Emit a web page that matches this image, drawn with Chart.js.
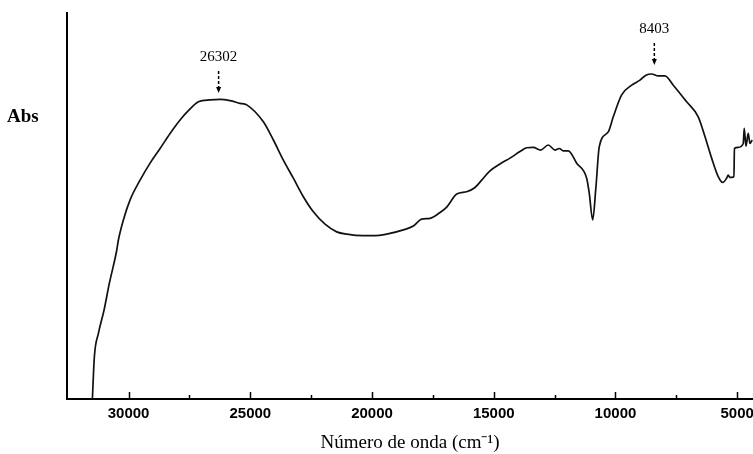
<!DOCTYPE html>
<html lang="es">
<head>
<meta charset="UTF-8">
<title>Espectro de absorción</title>
<script src="https://cdn.jsdelivr.net/npm/chart.js"></script>
<style>
  html, body { margin: 0; padding: 0; background: #fff; }
  #wrap { width: 753px; height: 454px; }
</style>
</head>
<body>
<div id="wrap"><canvas id="spectrum" width="753" height="454"></canvas></div>
<script>
// espectro: número de onda (cm-1) y absorbancia (u.a.)
const wavenumbers = [
  31487, 31405, 31240, 31006, 30789, 30485, 30419, 30214, 29938, 29528,
  29117, 28706, 28296, 27885, 27544, 27133, 26653, 26242, 25832, 25421,
  25146, 24464, 24053, 23643, 23232, 22821, 22411, 21930, 21450, 21039,
  20357, 19947, 19396, 18714, 18304, 17959, 17618, 17207, 16932, 16521,
  16111, 15770, 15495, 15154, 14743, 14333, 13922, 13647, 13376, 13072,
  12760, 12484, 12308, 12144, 11938, 11593, 11183, 11076, 10936, 10801,
  10665, 10296, 10090, 9745, 9334, 8994, 8747, 8513, 8242, 7967,
  7626, 7076, 6600, 6324, 6049, 5778, 5597, 5433, 5367, 5297,
  5133, 5113, 4957, 4751, 4710, 4640, 4546, 4476, 4382
];
const absorbance = [
  0.000, 0.110, 0.170, 0.231, 0.300, 0.386, 0.412, 0.464, 0.516, 0.567,
  0.611, 0.649, 0.688, 0.723, 0.747, 0.770, 0.775, 0.776, 0.773, 0.766,
  0.762, 0.718, 0.671, 0.619, 0.572, 0.524, 0.485, 0.453, 0.433, 0.427,
  0.423, 0.423, 0.427, 0.438, 0.448, 0.466, 0.468, 0.483, 0.497, 0.531,
  0.537, 0.548, 0.567, 0.591, 0.609, 0.624, 0.641, 0.651, 0.652, 0.645,
  0.658, 0.645, 0.649, 0.643, 0.643, 0.611, 0.572, 0.533, 0.464, 0.550,
  0.654, 0.692, 0.731, 0.788, 0.813, 0.826, 0.839, 0.842, 0.837, 0.837,
  0.813, 0.770, 0.731, 0.680, 0.624, 0.576, 0.561, 0.572, 0.580, 0.574,
  0.576, 0.649, 0.652, 0.662, 0.701, 0.655, 0.688, 0.662, 0.671
];
const tickValues = [30000, 25000, 20000, 15000, 10000, 5000];
const minorTicks = [27500, 22500, 17500, 12500, 7500];
const peakPositions = [26302, 8403];
const peakLabels = ['26302', '8403'];
const peakArrowTips = [0.793, 0.865];

const points = wavenumbers.map((wn, i) => ({ x: wn, y: absorbance[i] }));

// marcas del eje x hacia dentro, "Abs" y flechas de los máximos
const decorations = {
  id: 'decorations',
  afterDatasetsDraw(chart) {
    const { ctx, chartArea, scales: { x, y } } = chart;
    ctx.save();
    ctx.strokeStyle = '#000';
    ctx.lineWidth = 1.5;
    const ticks = tickValues.map(v => [v, 7]).concat(minorTicks.map(v => [v, 4]));
    ticks.forEach(([v, len]) => {
      const px = Math.round(x.getPixelForValue(v)) + 0.5;
      ctx.beginPath();
      ctx.moveTo(px, chartArea.bottom);
      ctx.lineTo(px, chartArea.bottom - len);
      ctx.stroke();
    });

    ctx.fillStyle = '#000';
    ctx.font = 'bold 19px "Liberation Serif", serif';
    ctx.textAlign = 'left';
    ctx.textBaseline = 'middle';
    ctx.fillText('Abs', 7, chartArea.top + 104);

    ctx.font = '15px "Liberation Serif", serif';
    ctx.textAlign = 'center';
    peakPositions.forEach((wn, i) => {
      const px = x.getPixelForValue(wn);
      const tip = y.getPixelForValue(peakArrowTips[i]);
      ctx.setLineDash([3, 2]);
      ctx.lineWidth = 1.5;
      ctx.beginPath();
      ctx.moveTo(px, tip - 22);
      ctx.lineTo(px, tip - 5);
      ctx.stroke();
      ctx.setLineDash([]);
      ctx.beginPath();
      ctx.moveTo(px - 2.5, tip - 6);
      ctx.lineTo(px + 2.5, tip - 6);
      ctx.lineTo(px, tip);
      ctx.closePath();
      ctx.fill();
      ctx.fillText(peakLabels[i], px, tip - 36);
    });
    ctx.restore();
  }
};

new Chart(document.getElementById('spectrum'), {
  type: 'line',
  data: {
    datasets: [{
      data: points,
      borderColor: '#111',
      borderWidth: 1.7,
      pointRadius: 0,
      cubicInterpolationMode: 'monotone',
      fill: false
    }]
  },
  options: {
    responsive: false,
    devicePixelRatio: 1,
    animation: false,
    layout: { padding: { left: 67, top: 13, right: 0, bottom: 0 } },
    plugins: { legend: { display: false }, tooltip: { enabled: false } },
    scales: {
      x: {
        type: 'linear',
        reverse: true,
        min: 4350,
        max: 32530,
        grid: { display: false },
        border: { display: true, color: '#000', width: 2 },
        afterBuildTicks: scale => {
          scale.ticks = tickValues.map(v => ({ value: v }));
        },
        afterFit: scale => {
          scale.height = 55;
          scale.paddingLeft = 0;
          scale.paddingRight = 0;
        },
        ticks: {
          autoSkip: false,
          maxRotation: 0,
          padding: -2,
          color: '#000',
          font: { family: '"Liberation Sans", Arial, sans-serif', size: 15, weight: 'bold' },
          callback: v => String(v)
        },
        title: {
          display: true,
          text: 'Número de onda (cm⁻¹)',
          color: '#000',
          padding: { top: 0, bottom: 0 },
          font: { family: '"Liberation Serif", serif', size: 19 }
        }
      },
      y: {
        min: 0,
        max: 1,
        grid: { display: false },
        border: { display: true, color: '#000', width: 2 },
        ticks: { display: false },
        afterFit: scale => { scale.width = 0; }
      }
    }
  },
  plugins: [decorations]
});
</script>
</body>
</html>
